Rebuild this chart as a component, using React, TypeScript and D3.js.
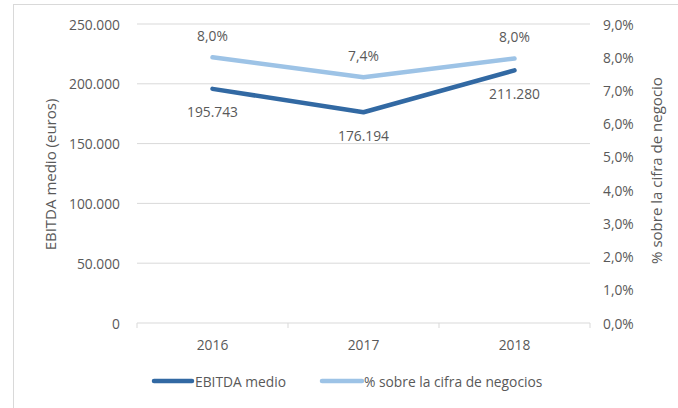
import React from 'react';
import { scaleLinear, scaleBand, line } from 'd3';

const years = ['2016', '2017', '2018'];
const ebitda = [195743, 176194, 211280];
const pct = [8.0, 7.4, 7.96];
const leftTicks = [0, 50000, 100000, 150000, 200000, 250000];
const rightTicks = [0, 1, 2, 3, 4, 5, 6, 7, 8, 9];

const W = 678;
const H = 408;
const M = { left: 137, right: 88, top: 24, bottom: 85 };
const FONT = '"Open Sans", sans-serif';
const TXT = '#595959';
const DARK = '#3269a3';
const LIGHT = '#9dc3e6';

const fmtThousands = (v: number) =>
  v === 0 ? '0' : Math.round(v).toString().replace(/\B(?=(\d{3})+(?!\d))/g, '.');
const fmtPct = (v: number) => v.toFixed(1).replace('.', ',') + '%';

export default function App() {
  const x0 = M.left;
  const x1 = W - M.right;
  const y0 = H - M.bottom;
  const y1 = M.top;

  const xScale = scaleBand<string>().domain(years).range([x0, x1]);
  const yLeft = scaleLinear().domain([0, 250000]).range([y0, y1]);
  const yRight = scaleLinear().domain([0, 9]).range([y0, y1]);
  const cx = (y: string) => (xScale(y) as number) + xScale.bandwidth() / 2;

  const ebitdaLine = line<number>()
    .x((d, i) => cx(years[i]))
    .y(d => yLeft(d));
  const pctLine = line<number>()
    .x((d, i) => cx(years[i]))
    .y(d => yRight(d));

  const boundaries = [x0, ...years.map(y => (xScale(y) as number) + xScale.bandwidth())];

  return (
    <svg width={W} height={H} style={{ position: 'absolute', left: 0, top: 0, background: '#fff' }}>
      <rect x={13.5} y={4.5} width={W} height={H} fill="#fff" stroke="#d9d9d9" />
      <g fontFamily={FONT} fontSize={13.8} fill={TXT}>
        {leftTicks.slice(1).map(t => (
          <line key={t} x1={x0} x2={x1} y1={yLeft(t)} y2={yLeft(t)} stroke="#d9d9d9" strokeWidth={1} />
        ))}
        <line x1={x0} x2={x1} y1={y0} y2={y0} stroke="#d9d9d9" strokeWidth={1} />
        {boundaries.map((b, i) => (
          <line key={i} x1={b} x2={b} y1={y0} y2={y0 + 5} stroke="#d9d9d9" />
        ))}
        {leftTicks.map(t => (
          <text key={t} x={120} y={yLeft(t)} textAnchor="end" dominantBaseline="central">
            {fmtThousands(t)}
          </text>
        ))}
        {rightTicks.map(t => (
          <text key={t} x={603} y={yRight(t)} textAnchor="start" dominantBaseline="central">
            {fmtPct(t)}
          </text>
        ))}
        {years.map(y => (
          <text key={y} x={cx(y)} y={y0 + 21} textAnchor="middle" dominantBaseline="central">
            {y}
          </text>
        ))}
        <text
          transform={`translate(50,${(y0 + y1) / 2 + 1}) rotate(-90)`}
          textAnchor="middle"
          dominantBaseline="central"
          fontSize={15}
        >
          EBITDA medio (euros)
        </text>
        <text
          transform={`translate(656,${(y0 + y1) / 2 - 3}) rotate(-90)`}
          textAnchor="middle"
          dominantBaseline="central"
          fontSize={15}
        >
          % sobre la cifra de negocio
        </text>

        <path d={pctLine(pct) || ''} fill="none" stroke={LIGHT} strokeWidth={4.5} strokeLinejoin="round" strokeLinecap="round" />
        <path d={ebitdaLine(ebitda) || ''} fill="none" stroke={DARK} strokeWidth={4.5} strokeLinejoin="round" strokeLinecap="round" />

        {pct.map((v, i) => (
          <text key={i} x={cx(years[i])} y={yRight(v) - 22} textAnchor="middle" dominantBaseline="central">
            {fmtPct(v)}
          </text>
        ))}
        {ebitda.map((v, i) => (
          <text key={i} x={cx(years[i])} y={yLeft(v) + 23} textAnchor="middle" dominantBaseline="central">
            {fmtThousands(v)}
          </text>
        ))}

        <line x1={154} x2={192} y1={381} y2={381} stroke={DARK} strokeWidth={4.5} strokeLinecap="round" />
        <text x={195} y={381} dominantBaseline="central">EBITDA medio</text>
        <line x1={322} x2={362} y1={381} y2={381} stroke={LIGHT} strokeWidth={4.5} strokeLinecap="round" />
        <text x={364} y={381} dominantBaseline="central">% sobre la cifra de negocios</text>
      </g>
    </svg>
  );
}
